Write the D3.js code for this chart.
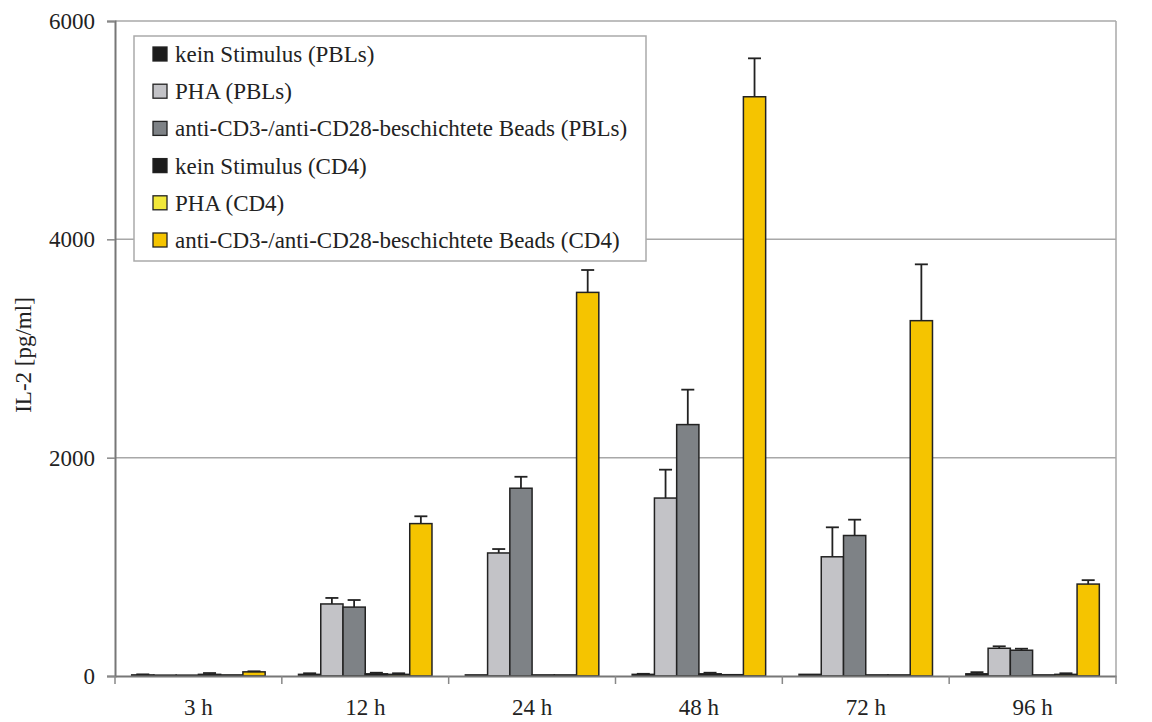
<!DOCTYPE html>
<html>
<head>
<meta charset="utf-8">
<script src="https://cdn.jsdelivr.net/npm/d3@7"></script>
<style>
  html, body { margin: 0; padding: 0; background: #fff; }
  svg { display: block; }
  text { font-family: "Liberation Serif", "Times New Roman", serif; fill: #222; }
</style>
</head>
<body>
<svg id="chart" width="1152" height="722"></svg>
<script>
// ---- data ----
const categories = ["3 h", "12 h", "24 h", "48 h", "72 h", "96 h"];
const seriesNames = [
  "kein Stimulus (PBLs)",
  "PHA (PBLs)",
  "anti-CD3-/anti-CD28-beschichtete Beads (PBLs)",
  "kein Stimulus (CD4)",
  "PHA (CD4)",
  "anti-CD3-/anti-CD28-beschichtete Beads (CD4)"
];
const seriesColors = ["#1c1c1c", "#c3c3c7", "#7e8286", "#1c1c1c", "#f2e83a", "#f5c400"];

const keinPBL      = [10, 15, 10, 15, 15, 20];
const keinPBLErr   = [5, 10, 0, 5, 0, 15];
const phaPBL       = [8, 660, 1127, 1630, 1092, 254];
const phaPBLErr    = [0, 55, 36, 260, 270, 18];
const beadsPBL     = [8, 631, 1720, 2303, 1287, 236];
const beadsPBLErr  = [0, 65, 105, 320, 145, 14];
const keinCD4      = [15, 20, 10, 20, 10, 10];
const keinCD4Err   = [12, 10, 0, 10, 0, 0];
const phaCD4       = [10, 15, 10, 12, 10, 15];
const phaCD4Err    = [0, 10, 0, 0, 0, 10];
const beadsCD4     = [38, 1396, 3514, 5306, 3255, 842];
const beadsCD4Err  = [5, 67, 205, 352, 516, 36];

const yTicks = [0, 2000, 4000, 6000];
const yTitle = "IL-2 [pg/ml]";

const seriesValues = [keinPBL, phaPBL, beadsPBL, keinCD4, phaCD4, beadsCD4];
const seriesErrors = [keinPBLErr, phaPBLErr, beadsPBLErr, keinCD4Err, phaCD4Err, beadsCD4Err];

// ---- layout ----
const svg = d3.select("#chart");
const plotL = 115, plotR = 1116, plotT = 21, plotB = 676;
const fontSize = 23;
const serif = '"Liberation Serif", "Times New Roman", serif';

const x0 = d3.scaleBand().domain(categories).range([plotL, plotR]).padding(0);
const bw = x0.bandwidth();
const x1 = d3.scaleBand().domain(d3.range(seriesNames.length)).range([bw * 0.1, bw * 0.9]).padding(0);
const y = d3.scaleLinear().domain([0, 6000]).range([plotB, plotT]);

// gridlines
svg.append("g").selectAll("line").data(yTicks.filter(d => d > 0)).join("line")
  .attr("x1", plotL).attr("x2", plotR)
  .attr("y1", d => y(d)).attr("y2", d => y(d))
  .attr("stroke", "#a8a8a8").attr("stroke-width", 1.5);

// right frame
svg.append("line").attr("x1", plotR).attr("x2", plotR).attr("y1", plotT).attr("y2", plotB)
  .attr("stroke", "#a8a8a8").attr("stroke-width", 1.5);

// bars
const data = [];
categories.forEach((c, ci) => {
  seriesValues.forEach((vals, si) => {
    data.push({ c, si, v: vals[ci], e: seriesErrors[si][ci] });
  });
});

const gBars = svg.append("g");
gBars.selectAll("rect").data(data).join("rect")
  .attr("x", d => x0(d.c) + x1(d.si))
  .attr("width", x1.bandwidth())
  .attr("y", d => y(d.v))
  .attr("height", d => y(0) - y(d.v))
  .attr("fill", d => seriesColors[d.si])
  .attr("stroke", "#222")
  .attr("stroke-width", 1.5);

// error bars
const gErr = svg.append("g").attr("stroke", "#222").attr("stroke-width", 1.8);
const errData = data.filter(d => d.e > 0);
gErr.selectAll("line.v").data(errData).join("line").attr("class", "v")
  .attr("x1", d => x0(d.c) + x1(d.si) + x1.bandwidth() / 2)
  .attr("x2", d => x0(d.c) + x1(d.si) + x1.bandwidth() / 2)
  .attr("y1", d => y(d.v)).attr("y2", d => y(d.v + d.e));
gErr.selectAll("line.h").data(errData).join("line").attr("class", "h")
  .attr("x1", d => x0(d.c) + x1(d.si) + x1.bandwidth() / 2 - 6.5)
  .attr("x2", d => x0(d.c) + x1(d.si) + x1.bandwidth() / 2 + 6.5)
  .attr("y1", d => y(d.v + d.e)).attr("y2", d => y(d.v + d.e));

// y axis
const yAxis = d3.axisLeft(y).tickValues(yTicks).tickSize(8).tickPadding(12).tickFormat(d3.format("d"));
const gy = svg.append("g").attr("transform", `translate(${plotL},0)`).call(yAxis);
gy.attr("font-family", null);
gy.select(".domain").attr("stroke", "#777").attr("stroke-width", 2);
gy.selectAll(".tick line").attr("stroke", "#888").attr("stroke-width", 1.5);
gy.selectAll(".tick text").style("font-size", fontSize + "px")
  .style("font-family", serif).attr("fill", "#222");

// x axis
const xAxis = d3.axisBottom(x0).tickSize(0).tickPadding(23);
const gx = svg.append("g").attr("transform", `translate(0,${plotB})`).call(xAxis);
gx.attr("font-family", null);
gx.select(".domain").attr("stroke", "#777").attr("stroke-width", 2);
gx.selectAll(".tick text").style("font-size", fontSize + "px")
  .style("font-family", serif).attr("fill", "#222");
// boundary ticks
const bounds = categories.map(c => x0(c)).concat([plotR]);
gx.selectAll("line.bt").data(bounds).join("line").attr("class", "bt")
  .attr("x1", d => d).attr("x2", d => d).attr("y1", 0).attr("y2", 8)
  .attr("stroke", "#888").attr("stroke-width", 1.5);

// y title
svg.append("text")
  .attr("transform", `translate(31,355) rotate(-90)`)
  .attr("text-anchor", "middle")
  .style("font-size", fontSize + "px")
  .style("font-family", serif)
  .text(yTitle);

// legend
const lg = svg.append("g");
lg.append("rect").attr("x", 134).attr("y", 36).attr("width", 512).attr("height", 225)
  .attr("fill", "#fff").attr("stroke", "#aaa").attr("stroke-width", 1.5);
const items = lg.selectAll("g.item").data(seriesNames).join("g").attr("class", "item")
  .attr("transform", (d, i) => `translate(0,${54 + i * 37.2})`);
items.append("rect").attr("x", 153).attr("y", -7).attr("width", 14).attr("height", 14)
  .attr("fill", (d, i) => seriesColors[i]).attr("stroke", "#222").attr("stroke-width", 1.3);
items.append("text").attr("x", 175).attr("y", 0).attr("dy", "0.35em")
  .style("font-size", fontSize + "px").style("font-family", serif).text(d => d);
</script>
</body>
</html>
